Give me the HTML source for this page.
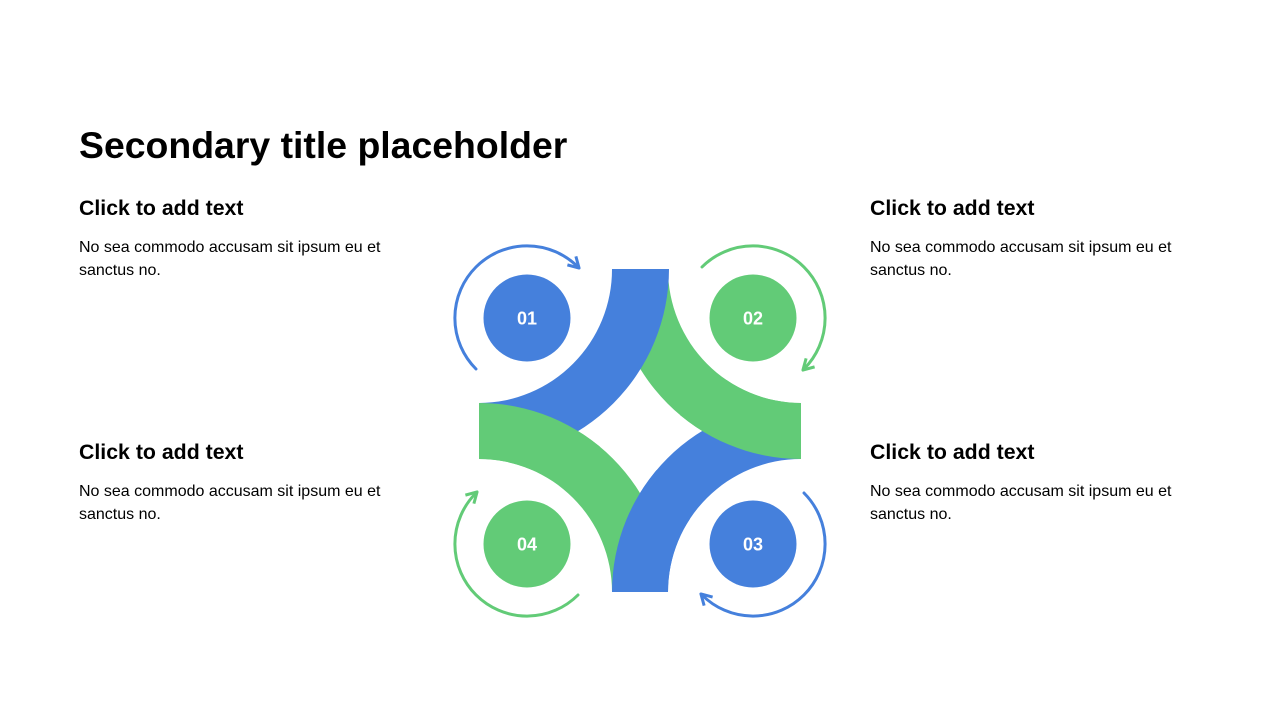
<!DOCTYPE html>
<html><head><meta charset="utf-8"><style>
html,body{margin:0;padding:0;background:#fff;}
svg{display:block;font-family:"Liberation Sans",Arial,sans-serif;}
</style></head><body>
<svg width="1280" height="720" viewBox="0 0 1280 720" xmlns="http://www.w3.org/2000/svg">
<defs>
<marker id="mb" viewBox="0 0 10 10" refX="7" refY="5" markerWidth="5" markerHeight="5" orient="auto" markerUnits="strokeWidth"><path d="M1,1 L8,5 L1,9" fill="none" stroke="#4580DC" stroke-width="2" stroke-linejoin="round"/></marker>
<marker id="mg" viewBox="0 0 10 10" refX="7" refY="5" markerWidth="5" markerHeight="5" orient="auto" markerUnits="strokeWidth"><path d="M1,1 L8,5 L1,9" fill="none" stroke="#62CB77" stroke-width="2" stroke-linejoin="round"/></marker>
<clipPath id="cL"><rect x="470" y="380" width="130" height="90"/></clipPath>
<clipPath id="cB"><rect x="590" y="470" width="100" height="130"/></clipPath>
<clipPath id="cR"><rect x="680" y="380" width="130" height="90"/></clipPath>
<path id="TL" d="M669,269 A190,190 0 0 1 479,459 L479,403 A133.5,133.5 0 0 0 612,269 Z"/>
<path id="TR" d="M612,269 A189,190 0 0 0 801,459 L801,403 A133,134 0 0 1 668,269 Z"/>
<path id="BR" d="M612,592 A189,189 0 0 1 801,403 L801,459 A133,133 0 0 0 668,592 Z"/>
<path id="BL" d="M668,592 A189,189 0 0 0 479,403 L479,459 A133,133 0 0 1 612,592 Z"/>
</defs>
<text x="79" y="158" font-size="37.4" font-weight="bold" fill="#000">Secondary title placeholder</text>

<g fill="#000">
<text x="79" y="215" font-size="21.3" font-weight="bold">Click to add text</text>
<text x="79" y="252" font-size="16">No sea commodo accusam sit ipsum eu et</text>
<text x="79" y="275" font-size="16">sanctus no.</text>
<text x="79" y="459" font-size="21.3" font-weight="bold">Click to add text</text>
<text x="79" y="496" font-size="16">No sea commodo accusam sit ipsum eu et</text>
<text x="79" y="519" font-size="16">sanctus no.</text>
<text x="870" y="215" font-size="21.3" font-weight="bold">Click to add text</text>
<text x="870" y="252" font-size="16">No sea commodo accusam sit ipsum eu et</text>
<text x="870" y="275" font-size="16">sanctus no.</text>
<text x="870" y="459" font-size="21.3" font-weight="bold">Click to add text</text>
<text x="870" y="496" font-size="16">No sea commodo accusam sit ipsum eu et</text>
<text x="870" y="519" font-size="16">sanctus no.</text>
</g>

<use href="#TR" fill="#62CB77"/>
<use href="#BR" fill="#4580DC"/>
<use href="#BL" fill="#62CB77"/>
<use href="#TL" fill="#4580DC"/>
<use href="#BL" fill="#62CB77" clip-path="url(#cL)"/>
<use href="#BR" fill="#4580DC" clip-path="url(#cB)"/>
<use href="#TR" fill="#62CB77" clip-path="url(#cR)"/>

<g fill="none" stroke-width="3" stroke-linecap="round">
<path d="M476,369 A72,72 0 0 1 578,267" stroke="#4580DC" marker-end="url(#mb)"/>
<path d="M702,267 A72,72 0 0 1 804,369" stroke="#62CB77" marker-end="url(#mg)"/>
<path d="M804,493 A72,72 0 0 1 702,595" stroke="#4580DC" marker-end="url(#mb)"/>
<path d="M578,595 A72,72 0 0 1 476,493" stroke="#62CB77" marker-end="url(#mg)"/>
</g>

<circle cx="527" cy="318" r="43.5" fill="#4580DC"/>
<circle cx="753" cy="318" r="43.5" fill="#62CB77"/>
<circle cx="753" cy="544" r="43.5" fill="#4580DC"/>
<circle cx="527" cy="544" r="43.5" fill="#62CB77"/>
<g fill="#fff" font-size="18" font-weight="bold" text-anchor="middle">
<text x="527" y="324.5">01</text>
<text x="753" y="324.5">02</text>
<text x="753" y="550.5">03</text>
<text x="527" y="550.5">04</text>
</g>
</svg>
</body></html>
